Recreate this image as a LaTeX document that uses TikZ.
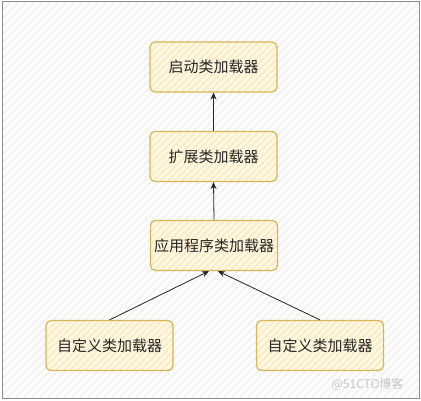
\documentclass[tikz,border=0pt]{standalone}
\usepackage{fontspec}
\newfontfamily\cjk{Noto Sans CJK SC}
\usetikzlibrary{arrows.meta}
\definecolor{boxline}{HTML}{D6B656}
\definecolor{boxfill}{HTML}{FFF9E8}
\definecolor{boxhatch}{HTML}{FCEBC0}
\definecolor{bghatch}{HTML}{F3F3F3}
\definecolor{frame}{HTML}{8A8A8A}
\tikzset{
  loader/.style={draw=boxline, line width=1.2pt, fill=boxfill, rounded corners=5pt,
    minimum width=127pt, minimum height=50pt, inner sep=0pt,
    font=\cjk\fontsize{15}{17}\selectfont, text=black!85,
    path picture={\foreach \i in {-60,-53,...,140}
      \draw[boxhatch, line width=2pt] ([xshift=\i pt]path picture bounding box.south west) -- ++(60pt,60pt);}},
  link/.style={draw=black!85, line width=0.8pt},
  arr/.style={link, -{Stealth[length=7pt,width=6pt]}}
}
\begin{document}
\begin{tikzpicture}[x=1pt,y=-1pt]
\useasboundingbox (0,0) rectangle (421,401);
\fill[white] (0,0) rectangle (421,401);
\begin{scope}
  \clip (2,2) rectangle (419,398);
  \foreach \i in {-420,-412,...,430}
    \draw[bghatch, line width=2.5pt] (\i,401) -- ++(410,-410);
\end{scope}
\draw[frame, line width=1pt] (2,2) rectangle (419,398);

\node[loader] (b1) at (213.5,67) {启动类加载器};
\node[loader] (b2) at (213.5,156.5) {扩展类加载器};
\node[loader] (b3) at (214,245.5) {应用程序类加载器};
\node[loader] (b4) at (109.5,345.5) {自定义类加载器};
\node[loader] (b5) at (320,345.5) {自定义类加载器};

\draw[arr] (b2.north) -- (b1.south);
\draw[arr] (b3.north) -- (b2.south);
\draw[arr] (b4.north) -- ([xshift=-5pt]b3.south);
\draw[arr] (b5.north) -- ([xshift=4pt]b3.south);

\node[font=\cjk\fontsize{12}{14}\selectfont, text=black!22, anchor=east] (wm) at (407,384) {@51CTO博客};
\end{tikzpicture}
\end{document}
